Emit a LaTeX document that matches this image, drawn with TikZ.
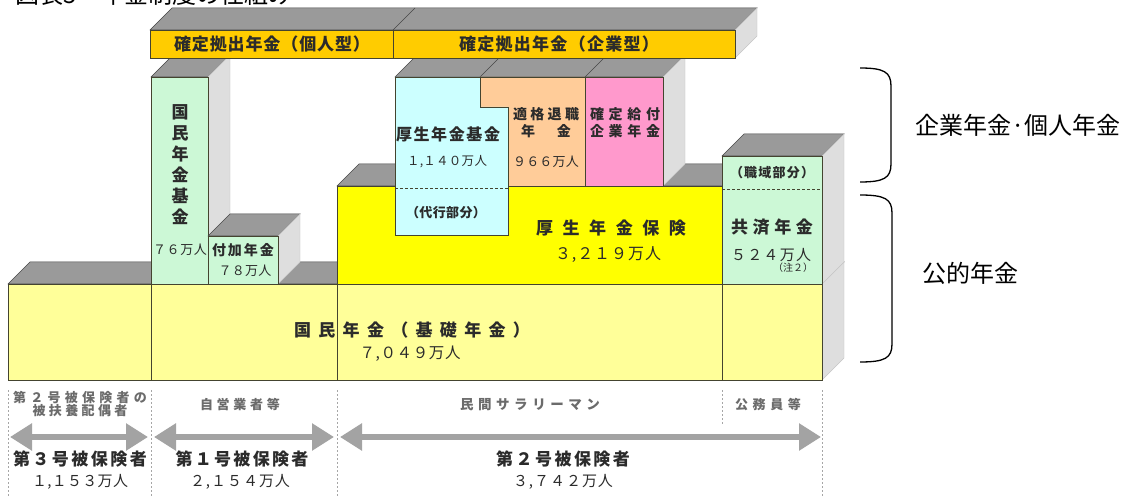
\documentclass[tikz,border=0pt]{standalone}
\usepackage{fontspec}
\setmainfont{Noto Sans CJK JP}
\usetikzlibrary{arrows.meta}
\definecolor{dcgold}{HTML}{FFCC00}
\definecolor{topgray}{HTML}{9A9A9A}
\definecolor{sidegray}{HTML}{DEDEDE}
\definecolor{mint}{HTML}{CCF8D6}
\definecolor{skyb}{HTML}{CCFFFF}
\definecolor{peach}{HTML}{FFCC99}
\definecolor{pinkb}{HTML}{FF99CC}
\definecolor{brightY}{HTML}{FFFF00}
\definecolor{paleY}{HTML}{FFFF99}
\definecolor{edgec}{HTML}{44442F}
\definecolor{txt}{HTML}{2B2B2B}
\definecolor{arrowg}{HTML}{A3A3A3}
\makeatletter
\def\spr@d#1{\ifx#1\@nil\else\hfill#1\expandafter\spr@d\fi}
\def\spr@dfirst#1{#1\spr@d}
\newcommand\sprd[2]{\makebox[#1pt]{\spr@dfirst#2\@nil}}
\makeatother
\newcommand\topface[3]{\filldraw[topf] (#1,#3) -- (#1+22,#3-22) -- (#2+22,#3-22) -- (#2,#3) -- cycle;}
\newcommand\sideface[3]{\filldraw[sidef] (#1,#2) -- (#1+22,#2-22) -- (#1+22,#3-22) -- (#1,#3) -- cycle;}
\begin{document}
\begin{tikzpicture}[x=1pt,y=-1pt,
  topf/.style={fill=topgray,draw=gray!55!black,line width=0.5pt},
  sidef/.style={fill=sidegray,draw=gray!45,line width=0.4pt},
  frontbox/.style={draw=edgec,line width=0.9pt},
  lb/.style={inner sep=0pt,text=txt,font=\bfseries\fontsize{#1}{#1}\selectfont},
  nm/.style={inner sep=0pt,text=txt,font=\fontsize{#1}{#1}\selectfont},
  sublb/.style={inner sep=0pt,text=txt!70,font=\bfseries\fontsize{#1}{#1}\selectfont},
  dashln/.style={draw=gray!70,line width=0.6pt,dash pattern=on 2pt off 2pt},
  innerdash/.style={draw=edgec,line width=0.8pt,dash pattern=on 3pt off 2pt},
  garrow/.style={draw=arrowg,line width=6pt,{Triangle[length=22pt,width=26pt]}-{Triangle[length=22pt,width=26pt]}},
  bracec/.style={draw=black,line width=1.3pt},
  sidelab/.style={inner sep=0pt,text=black,font=\fontsize{24}{24}\selectfont}
]
\fill[white] (0,0) rectangle (1141,497);
\useasboundingbox (0,0) rectangle (1141,497);

% title (cut off at top, as in the source)
\begin{scope}
\clip (0,0) rectangle (1141,497);
\node[anchor=base west,inner sep=0pt,font=\fontsize{24}{24}\selectfont] (title) at (15,4) {図表5　年金制度の仕組み};
\end{scope}

% base: national pension
\topface{8}{822}{284}
\sideface{822}{284}{380}
\filldraw[frontbox,fill=paleY] (8,284) rectangle (822,380);
\draw[frontbox] (151,284) -- (151,380) (337,284) -- (337,380) (722,284) -- (722,380);

% employees' pension insurance
\topface{337}{722}{186}
\filldraw[frontbox,fill=brightY] (337,186) rectangle (722,284);

% national pension fund
\topface{151}{208}{77}
\sideface{208}{77}{284}
\filldraw[frontbox,fill=mint] (151,77) rectangle (208,284);

% additional pension
\topface{208}{278}{236}
\sideface{278}{236}{284}
\filldraw[frontbox,fill=mint] (208,236) rectangle (278,284);

% corporate pensions
\topface{395}{663}{77}
\draw[gray!55!black,line width=0.5pt] (480,77) -- (502,55) (585,77) -- (607,55);
\sideface{663}{77}{186}
\filldraw[frontbox,fill=peach] (480,77) -- (585,77) -- (585,186) -- (508,186) -- (508,107) -- (480,107) -- cycle;
\filldraw[frontbox,fill=pinkb] (585,77) rectangle (663,186);
\filldraw[frontbox,fill=skyb] (395,77) -- (480,77) -- (480,107) -- (508,107) -- (508,235) -- (395,235) -- cycle;
\draw[innerdash] (395,188) -- (508,188);

% mutual aid
\topface{722}{822}{156}
\sideface{822}{156}{284}
\filldraw[frontbox,fill=mint] (722,156) rectangle (822,284);
\draw[innerdash] (722,189) -- (822,189);

% defined contribution bars
\topface{150}{735}{30}
\draw[gray!55!black,line width=0.5pt] (393,30) -- (415,8);
\sideface{735}{30}{58}
\filldraw[frontbox,fill=dcgold] (150,30) rectangle (393,58);
\filldraw[frontbox,fill=dcgold] (393,30) rectangle (735,58);

% labels
\node[lb=17] (dcA) at (272,44) {\sprd{196}{確定拠出年金（個人型）}};
\node[lb=17] (dcB) at (559,44) {\sprd{200}{確定拠出年金（企業型）}};
\node[inner sep=0pt,text=txt,align=center,font=\bfseries\fontsize{17}{21}\selectfont] (kkk) at (180,165) {国\\民\\年\\金\\基\\金};
\node[nm=13] (n76) at (180,250) {\sprd{54}{７６万人}};
\node[lb=14] (fuka) at (243,250) {\sprd{62}{付加年金}};
\node[nm=13] (n78) at (245,271) {\sprd{53}{７８万人}};
\node[lb=16] (kkf) at (448,134) {\sprd{104}{厚生年金基金}};
\node[nm=12.5] (n1140) at (447,162) {\sprd{80}{１,１４０万人}};
\node[lb=14] (tek1) at (546,114) {\sprd{66}{適格退職}};
\node[lb=14] (tek2) at (546,131) {\sprd{50}{年金}};
\node[nm=13] (n966) at (546,162) {\sprd{66}{９６６万人}};
\node[lb=14] (kyu1) at (625,114) {\sprd{70}{確定給付}};
\node[lb=14] (kyu2) at (625,131) {\sprd{70}{企業年金}};
\node[lb=13] (daiko) at (446,213) {\sprd{80}{（代行部分）}};
\node[lb=17] (khk) at (611,228) {\sprd{150}{厚生年金保険}};
\node[nm=16] (n3219) at (608,255) {\sprd{106}{３,２１９万人}};
\node[lb=13] (shoku) at (772,173) {\sprd{84}{（職域部分）}};
\node[lb=17] (kyosai) at (772,227) {\sprd{82}{共済年金}};
\node[nm=15] (n524) at (771,255) {\sprd{80}{５２４万人}};
\node[nm=10] (chu) at (793,268) {（注２）};
\node[lb=17] (kiso) at (412,330) {\sprd{236}{国民年金（基礎年金）}};
\node[nm=15.5] (n7049) at (410,354) {\sprd{101}{７,０４９万人}};

% bottom section
\draw[dashln] (8,390) -- (8,497) (151,390) -- (151,497) (337,390) -- (337,497) (722,390) -- (722,424) (822,390) -- (822,497);
\node[sublb=13] (g3a) at (80,398) {\sprd{134}{第２号被保険者の}};
\node[sublb=13] (g3b) at (80,411) {\sprd{95}{被扶養配偶者}};
\node[sublb=13] (g1) at (240,405) {\sprd{80}{自営業者等}};
\node[sublb=13.5] (g2) at (530,405) {\sprd{140}{民間サラリーマン}};
\node[sublb=13] (g2b) at (768,405) {\sprd{66}{公務員等}};

\coordinate (a1l) at (10,437);
\coordinate (a1r) at (148,437);
\coordinate (a2l) at (154,437);
\coordinate (a2r) at (334,437);
\coordinate (a3l) at (340,437);
\coordinate (a3r) at (821,437);
\draw[garrow] (a1l) -- (a1r);
\draw[garrow] (a2l) -- (a2r);
\draw[garrow] (a3l) -- (a3r);

\node[lb=17] (h3) at (80,459) {\sprd{134}{第３号被保険者}};
\node[nm=15] (h3n) at (80,482) {\sprd{96}{１,１５３万人}};
\node[lb=17] (h1) at (242,459) {\sprd{133}{第１号被保険者}};
\node[nm=15] (h1n) at (240,482) {\sprd{100}{２,１５４万人}};
\node[lb=17] (h2) at (563,459) {\sprd{134}{第２号被保険者}};
\node[nm=15] (h2n) at (563,482) {\sprd{100}{３,７４２万人}};

% braces and side labels
\draw[bracec] (860,68) .. controls (884,68) and (891,72) .. (891,86) -- (891,164) .. controls (891,178) and (884,182) .. (860,182);
\draw[bracec] (860,195) .. controls (885,195) and (892,199) .. (892,213) -- (892,344) .. controls (892,358) and (885,362) .. (860,362);
\node[sidelab,anchor=west] (kigyo) at (915,125) {企業年金·個人年金};
\node[sidelab,anchor=west] (koteki) at (922,273) {公的年金};
\end{tikzpicture}
\end{document}
